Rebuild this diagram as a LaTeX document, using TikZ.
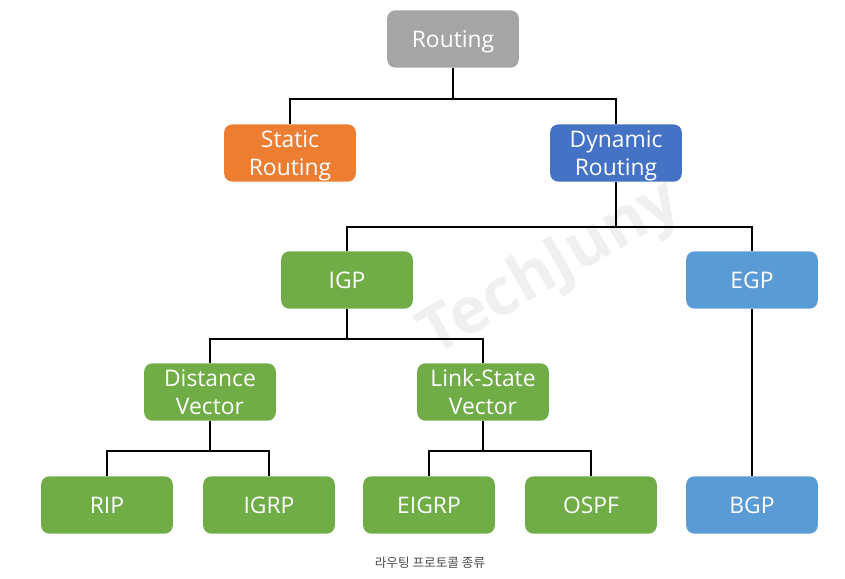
\documentclass[tikz,border=0pt]{standalone}
\usepackage{fontspec}
\setmainfont{Open Sans}
\newfontfamily\krfont{Noto Sans CJK KR}
\usepackage{xcolor}
\usetikzlibrary{shapes,arrows,positioning}

\definecolor{rootgray}{HTML}{A5A5A5}
\definecolor{staticorange}{HTML}{ED7D31}
\definecolor{dynblue}{HTML}{4472C4}
\definecolor{protogreen}{HTML}{70AD47}
\definecolor{egpblue}{HTML}{5B9BD5}

\begin{document}
\begin{tikzpicture}[
    x=0.03cm, y=-0.03cm,
    box/.style={rectangle, rounded corners=7pt, minimum width=3.95cm, minimum height=1.72cm,
                text=white, font=\fontsize{19.5}{23.5}\selectfont, align=center, inner sep=2pt,
                text depth=0pt},
    link/.style={line width=1.4pt, black}
]
\useasboundingbox (0,0) rectangle (845,578);

% watermark
\node[rotate=30, text=black!6, font=\bfseries\fontsize{55}{60}\selectfont] (mark) at (551,270) {TechJuny};

\node[box, fill=rootgray] (routing) at (453,39) {Routing};
\node[box, fill=staticorange] (static) at (290,153) {Static\\Routing};
\node[box, fill=dynblue] (dynamic) at (616,153) {Dynamic\\Routing};
\node[box, fill=protogreen] (igp) at (347,280) {IGP};
\node[box, fill=egpblue] (egp) at (752,280) {EGP};
\node[box, fill=protogreen] (dv) at (210,392) {Distance\\Vector};
\node[box, fill=protogreen] (ls) at (483,392) {Link-State\\Vector};
\node[box, fill=protogreen] (rip) at (107,505) {RIP};
\node[box, fill=protogreen] (igrp) at (269,505) {IGRP};
\node[box, fill=protogreen] (eigrp) at (429,505) {EIGRP};
\node[box, fill=protogreen] (ospf) at (591,505) {OSPF};
\node[box, fill=egpblue] (bgp) at (752,505) {BGP};

\node[text=black!70, font=\krfont\fontsize{10.8}{12}\selectfont] (caption) at (430,563) {라우팅 프로토콜 종류};

% junctions
\coordinate (j1) at (453,99);
\coordinate (j2) at (616,227);
\coordinate (j3) at (347,339);
\coordinate (j4) at (210,451);
\coordinate (j5) at (483,451);

\draw[link] (routing) -- (j1);
\draw[link] (static) |- (j1) -| (dynamic);
\draw[link] (dynamic) -- (j2);
\draw[link] (igp) |- (j2) -| (egp);
\draw[link] (igp) -- (j3);
\draw[link] (dv) |- (j3) -| (ls);
\draw[link] (dv) -- (j4);
\draw[link] (rip) |- (j4) -| (igrp);
\draw[link] (ls) -- (j5);
\draw[link] (eigrp) |- (j5) -| (ospf);
\draw[link] (egp) -- (bgp);
\end{tikzpicture}
\end{document}
